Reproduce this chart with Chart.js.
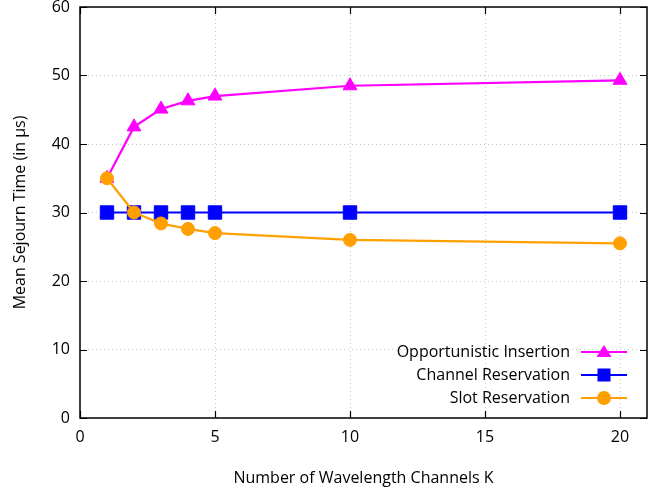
<!DOCTYPE html>
<html>
<head>
<meta charset="utf-8">
<script src="https://cdn.jsdelivr.net/npm/chart.js@4"></script>
<style>
html,body{margin:0;padding:0;background:#fff;}
#wrap{width:668px;height:491px;}
</style>
</head>
<body>
<div id="wrap"><canvas id="c" width="668" height="491"></canvas></div>
<script>
const kValues = [1, 2, 3, 4, 5, 10, 20];
const opportunistic = [35, 42.5, 45.1, 46.3, 47.0, 48.5, 49.3];
const channelRes = [30, 30, 30, 30, 30, 30, 30];
const slotRes = [35, 30, 28.4, 27.6, 27.0, 26.0, 25.5];
const seriesNames = ['Opportunistic Insertion', 'Channel Reservation', 'Slot Reservation'];
const xTicks = [0, 5, 10, 15, 20];
const yTicks = [0, 10, 20, 30, 40, 50, 60];

const FONT = "'Open Sans', 'Noto Sans', sans-serif";
const FS = 16;
const toPts = (ys) => kValues.map((x, i) => ({x: x, y: ys[i]}));

const innerTicks = {
  id: 'innerTicks',
  afterDraw(chart) {
    const ctx = chart.ctx, a = chart.chartArea;
    const xs = chart.scales.x, ys = chart.scales.y;
    ctx.save();
    ctx.strokeStyle = '#000';
    ctx.lineWidth = 1.2;
    const L = 7;
    xTicks.forEach(v => {
      const p = Math.round(xs.getPixelForValue(v)) + 0.5;
      ctx.beginPath();
      ctx.moveTo(p, a.bottom); ctx.lineTo(p, a.bottom - L);
      ctx.moveTo(p, a.top); ctx.lineTo(p, a.top + L);
      ctx.stroke();
    });
    yTicks.forEach(v => {
      const p = Math.round(ys.getPixelForValue(v)) + 0.5;
      ctx.beginPath();
      ctx.moveTo(a.left, p); ctx.lineTo(a.left + L, p);
      ctx.moveTo(a.right, p); ctx.lineTo(a.right - L, p);
      ctx.stroke();
    });
    ctx.lineWidth = 1.5;
    ctx.strokeRect(a.left, a.top, a.right - a.left, a.bottom - a.top);
    ctx.restore();
  }
};

const insideLegend = {
  id: 'insideLegend',
  afterDraw(chart) {
    const ctx = chart.ctx;
    ctx.save();
    ctx.font = FS + "px " + FONT;
    ctx.textAlign = 'right';
    ctx.textBaseline = 'middle';
    const rows = [352, 375, 398];
    chart.data.datasets.forEach((ds, i) => {
      const y = rows[i];
      ctx.fillStyle = '#000';
      ctx.fillText(ds.label, 570, y);
      ctx.strokeStyle = ds.borderColor;
      ctx.lineWidth = 2.2;
      ctx.beginPath(); ctx.moveTo(581, y); ctx.lineTo(627, y); ctx.stroke();
      ctx.fillStyle = ds.pointBackgroundColor;
      const cx = 604;
      ctx.beginPath();
      if (ds.pointStyle === 'triangle') {
        ctx.moveTo(cx, y - 7); ctx.lineTo(cx + 7.5, y + 5); ctx.lineTo(cx - 7.5, y + 5); ctx.closePath();
      } else if (ds.pointStyle === 'rect') {
        ctx.rect(cx - 6.5, y - 6.5, 13, 13);
      } else {
        ctx.arc(cx, y, 7, 0, Math.PI * 2);
      }
      ctx.fill();
    });
    ctx.restore();
  }
};

const mk = (label, data, color, style, r, order) => ({
  label: label, data: toPts(data), order: order,
  borderColor: color, backgroundColor: color,
  pointBackgroundColor: color, pointBorderColor: color,
  pointStyle: style, pointRadius: r, pointBorderWidth: 1,
  borderWidth: 2.2, tension: 0, fill: false
});

new Chart(document.getElementById('c'), {
  type: 'line',
  data: {
    datasets: [
      mk(seriesNames[0], opportunistic, '#ff00ff', 'triangle', 8, 3),
      mk(seriesNames[1], channelRes, '#0000ff', 'rect', 9.5, 2),
      mk(seriesNames[2], slotRes, '#ffa000', 'circle', 6.5, 1)
    ]
  },
  options: {
    responsive: false,
    animation: false,
    devicePixelRatio: 1,
    layout: {autoPadding: false, padding: {left: 0, top: 7, right: 21, bottom: 0}},
    plugins: {legend: {display: false}, tooltip: {enabled: false}},
    scales: {
      x: {
        type: 'linear', min: 0, max: 21,
        afterBuildTicks: (s) => { s.ticks = xTicks.map(v => ({value: v})); },
        afterFit: (s) => { s.height = 73; s.paddingLeft = 0; s.paddingRight = 0; },
        ticks: {color: '#000', font: {family: FONT, size: FS}, padding: 10, maxRotation: 0},
        grid: {color: (c) => (c.tick && c.tick.value > 0 && c.tick.value < 21) ? '#c8c8c8' : 'rgba(0,0,0,0)', lineWidth: 1, drawTicks: false},
        border: {display: false, dash: [1, 3]},
        title: {display: true, text: 'Number of Wavelength Channels K', color: '#000', font: {family: FONT, size: FS}, padding: {top: 0, bottom: 3}}
      },
      y: {
        type: 'linear', min: 0, max: 60,
        afterBuildTicks: (s) => { s.ticks = yTicks.map(v => ({value: v})); },
        afterFit: (s) => { s.width = 80; s.paddingTop = 0; s.paddingBottom = 0; },
        ticks: {color: '#000', font: {family: FONT, size: FS}, padding: 10},
        grid: {color: (c) => (c.tick && c.tick.value > 0 && c.tick.value < 60) ? '#c8c8c8' : 'rgba(0,0,0,0)', lineWidth: 1, drawTicks: false},
        border: {display: false, dash: [1, 3]},
        title: {display: true, text: 'Mean Sejourn Time (in µs)', color: '#000', font: {family: FONT, size: FS}, padding: {top: 11, bottom: 0}}
      }
    }
  },
  plugins: [innerTicks, insideLegend]
});
</script>
</body>
</html>
